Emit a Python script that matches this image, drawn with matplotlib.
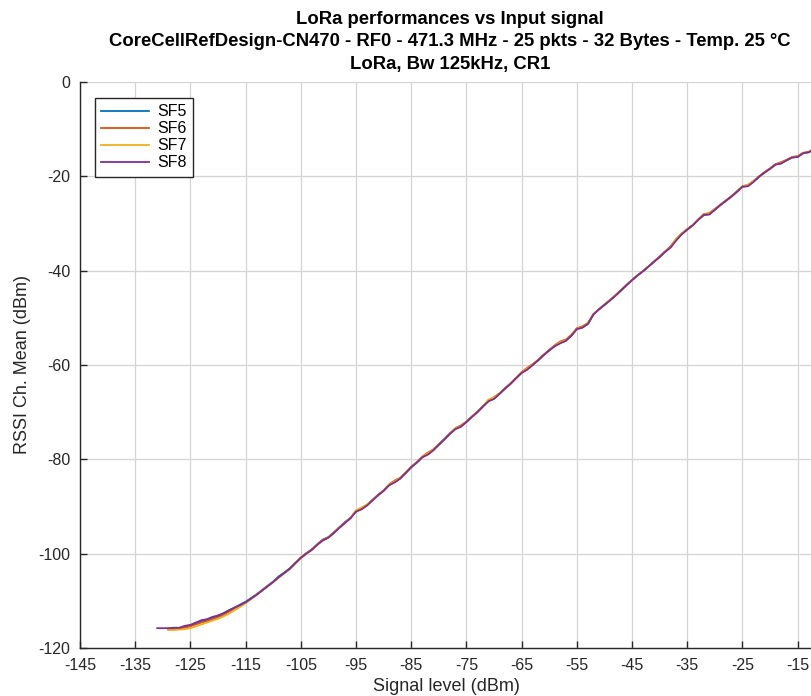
import matplotlib
matplotlib.use("Agg")
import matplotlib.pyplot as plt
import numpy as np

plt.rcParams['font.family'] = ['Liberation Sans', 'DejaVu Sans']
plt.rcParams['axes.unicode_minus'] = False

# ---- data ----
signal_sf8 = list(range(-131, -10))
signal_sf567 = list(range(-129, -10))

rssi_sf8 = [-115.8, -115.8, -115.8, -115.7, -115.7, -115.3, -115.1, -114.6, -114.1, -113.9,
            -113.4, -113.1, -112.6, -112.0, -111.4, -110.9, -110.3, -109.5, -108.7, -107.8,
            -106.9, -106.0, -105.0, -104.1, -103.2, -102.0, -100.9, -100.0, -99.2, -98.1,
            -97.2, -96.6, -95.6, -94.5, -93.5, -92.5, -91.1, -90.6, -89.8, -88.7,
            -87.6, -86.7, -85.5, -84.9, -84.1, -82.9, -81.7, -80.7, -79.6, -79.0,
            -78.1, -76.9, -75.8, -74.6, -73.6, -73.1, -72.1, -71.0, -70.0, -68.8,
            -67.7, -67.2, -66.1, -65.0, -64.0, -62.8, -61.7, -61.0, -60.0, -59.0,
            -57.9, -56.9, -56.0, -55.4, -54.9, -53.8, -52.4, -52.1, -51.3, -49.3,
            -48.2, -47.3, -46.3, -45.3, -44.2, -43.1, -42.0, -41.0, -40.1, -39.1,
            -38.1, -37.1, -36.0, -35.1, -33.6, -32.3, -31.3, -30.4, -29.2, -28.2,
            -28.1, -27.1, -26.1, -25.2, -24.3, -23.3, -22.2, -22.1, -21.2, -20.1,
            -19.2, -18.4, -17.5, -17.3, -16.6, -16.0, -15.9, -15.1, -14.9, -14.2,
            -13.8]

rssi_sf5 = [-115.9, -115.8, -115.8, -115.5, -115.2, -114.7, -114.3, -114.0,
            -113.6, -113.2, -112.7, -112.0, -111.5, -110.8, -110.2, -109.4, -108.6, -107.7,
            -106.8, -105.9, -104.8, -104.0, -103.1, -102.0, -100.9, -99.9, -99.1, -98.0,
            -97.0, -96.5, -95.5, -94.4, -93.3, -92.4, -91.0, -90.5, -89.7, -88.6,
            -87.6, -86.6, -85.4, -84.8, -84.0, -82.9, -81.6, -80.7, -79.5, -78.9,
            -78.0, -76.9, -75.7, -74.6, -73.5, -73.0, -72.0, -71.0, -69.9, -68.8,
            -67.6, -67.1, -66.1, -65.0, -63.9, -62.8, -61.6, -60.9, -60.0, -59.0,
            -57.9, -56.9, -56.0, -55.3, -54.8, -53.8, -52.3, -52.0, -51.3, -49.3,
            -48.2, -47.2, -46.3, -45.3, -44.2, -43.1, -42.0, -41.0, -40.1, -39.1,
            -38.1, -37.1, -36.0, -34.8, -33.4, -32.2, -31.3, -30.4, -29.2, -28.2,
            -28.0, -27.1, -26.1, -25.2, -24.3, -23.2, -22.2, -22.0, -21.1, -20.1,
            -19.2, -18.4, -17.5, -17.2, -16.6, -16.0, -15.9, -15.1, -14.9, -14.2,
            -13.8]

rssi_sf6 = [-116.0, -116.0, -115.9, -115.7, -115.4, -115.0, -114.6, -114.3,
            -113.9, -113.5, -113.0, -112.3, -111.6, -111.0, -110.4, -109.6, -108.7, -107.8,
            -106.9, -106.0, -105.0, -104.1, -103.2, -102.0, -100.8, -99.9, -99.1, -98.0,
            -97.1, -96.5, -95.5, -94.4, -93.4, -92.4, -90.9, -90.3, -89.6, -88.6,
            -87.5, -86.6, -85.3, -84.5, -83.9, -82.8, -81.6, -80.6, -79.4, -78.6,
            -77.9, -76.8, -75.7, -74.5, -73.4, -72.8, -72.0, -70.9, -69.9, -68.7,
            -67.5, -66.8, -66.0, -64.9, -63.9, -62.7, -61.5, -60.6, -59.8, -58.9,
            -57.8, -56.8, -55.8, -55.0, -54.6, -53.6, -52.2, -51.8, -51.1, -49.2,
            -48.2, -47.2, -46.2, -45.2, -44.1, -43.0, -42.0, -41.0, -40.1, -39.1,
            -38.0, -37.0, -35.9, -34.9, -33.3, -32.1, -31.2, -30.3, -29.1, -28.0,
            -27.8, -26.9, -26.0, -25.1, -24.2, -23.2, -22.1, -21.8, -21.0, -20.0,
            -19.1, -18.3, -17.4, -17.0, -16.5, -15.9, -15.7, -15.0, -14.8, -14.1,
            -13.8]

rssi_sf7 = [-116.2, -116.2, -116.1, -116.0, -115.8, -115.4, -115.0, -114.6,
            -114.2, -113.8, -113.3, -112.7, -112.0, -111.3, -110.5, -109.6, -108.7, -107.8,
            -106.9, -106.0, -105.1, -104.2, -103.3, -102.1, -101.0, -100.0, -99.2, -98.1,
            -97.2, -96.6, -95.6, -94.5, -93.5, -92.4, -90.8, -90.2, -89.6, -88.7,
            -87.6, -86.7, -85.4, -84.7, -84.0, -82.9, -81.7, -80.7, -79.5, -78.8,
            -78.0, -76.9, -75.8, -74.6, -73.5, -73.0, -72.1, -71.0, -70.0, -68.8,
            -67.3, -66.9, -66.0, -65.0, -64.0, -62.8, -61.6, -60.8, -59.9, -59.0,
            -57.9, -56.9, -55.9, -55.2, -54.8, -53.7, -52.3, -52.0, -51.2, -49.3,
            -48.2, -47.3, -46.2, -45.3, -44.2, -43.1, -42.0, -41.0, -40.1, -39.1,
            -38.1, -37.1, -36.0, -35.0, -33.2, -32.1, -31.3, -30.4, -29.2, -28.1,
            -28.0, -27.0, -26.1, -25.2, -24.3, -23.3, -22.2, -21.8, -21.1, -20.1,
            -19.2, -18.4, -17.5, -17.2, -16.6, -16.0, -15.8, -15.1, -14.9, -14.2,
            -13.8]

series_names = ["SF5", "SF6", "SF7", "SF8"]
x_ticks = list(range(-145, -10, 10))
y_ticks = list(range(-120, 1, 20))

# ---- figure ----
fig = plt.figure(figsize=(8.12, 6.96), dpi=100)
ax = fig.add_axes([80 / 812, 1 - 648 / 696, 1 - 80 / 812, (648 - 82) / 696])

colors = ["#0072BD", "#D95319", "#EDB120", "#7E2F8E"]
data = [(signal_sf567, rssi_sf5), (signal_sf567, rssi_sf6),
        (signal_sf567, rssi_sf7), (signal_sf8, rssi_sf8)]
for (xs, ys), c, name in zip(data, colors, series_names):
    ax.plot(xs, ys, color=c, lw=1.3, label=name)

ax.set_xlim(-145, -12.4)
ax.set_ylim(-120, 0)
ax.set_xticks(x_ticks)
ax.set_yticks(y_ticks)
ax.grid(True, color="#d4d4d4", lw=0.9)
ax.set_axisbelow(True)
for s in ("top", "right"):
    ax.spines[s].set_visible(False)
for s in ("left", "bottom"):
    ax.spines[s].set_color("#262626")
    ax.spines[s].set_linewidth(1.0)
ax.tick_params(direction="in", length=5, width=1.0, color="#262626",
               labelsize=11.5, labelcolor="#262626", pad=7)

ax.set_xlabel("Signal level (dBm)", fontsize=13, color="#262626", labelpad=4)
ax.set_ylabel("RSSI Ch. Mean (dBm)", fontsize=13, color="#262626", labelpad=5)

title_lines = ["LoRa performances vs Input signal",
               "CoreCellRefDesign-CN470 - RF0 - 471.3 MHz - 25 pkts - 32 Bytes - Temp. 25 °C",
               "LoRa, Bw 125kHz, CR1"]
for line, ypx in zip(title_lines, (19, 42, 65)):
    fig.text(0.554, 1 - ypx / 696, line, ha="center", va="center",
             fontsize=13.3, fontweight="bold")

leg = ax.legend(loc="upper left", bbox_to_anchor=(15 / 732, 1 - 16 / 566),
                fontsize=11.5, frameon=True, fancybox=False, framealpha=1,
                edgecolor="#262626", handlelength=3.0, handletextpad=0.5,
                labelspacing=0.12, borderpad=0.4, borderaxespad=0)
leg.get_frame().set_linewidth(1.0)

fig.savefig("out.png", dpi=100)
